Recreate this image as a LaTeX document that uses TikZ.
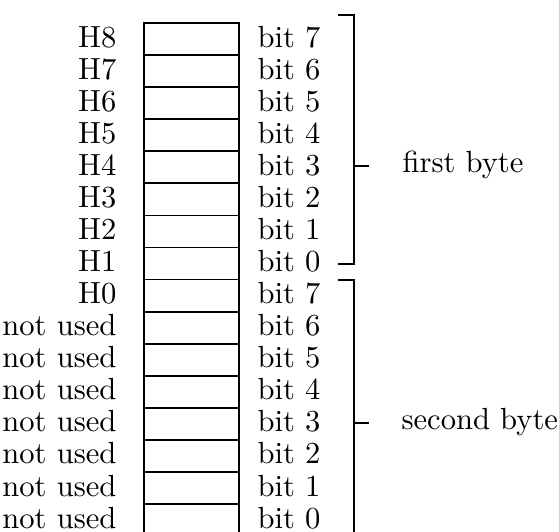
\documentclass[tikz,border=0pt]{standalone}
\begin{document}
\begin{tikzpicture}[x=0.35pt,y=-0.35pt,
  cell/.style={draw,line width=0.6pt,rectangle,inner sep=0pt,minimum width=33.25pt,minimum height=11.22pt},
  lab/.style={font=\fontsize{10.7}{12}\selectfont,inner sep=0pt},
  brk/.style={line width=0.4pt}]
\clip (0,0) rectangle (559,531);
\def\lefttext{{"H8","H7","H6","H5","H4","H3","H2","H1","H0","not used","not used","not used","not used","not used","not used","not used"}}
\foreach \i in {0,...,15}{
  \pgfmathsetmacro\yc{23+32.07*(\i+0.5)}
  \pgfmathtruncatemacro\b{7-mod(\i,8)}
  \pgfmathsetmacro\lt{\lefttext[\i]}
  \node[cell] (c\i) at (191.5,\yc) {};
  \node[lab,anchor=base east] (l\i) at (117,\yc+8) {\lt};
  \node[lab,anchor=base west] (r\i) at (257,\yc+8) {bit \b};
}
% first byte bracket
\coordinate (a1) at (338,15);
\coordinate (a2) at (354,15);
\coordinate (a3) at (354,264);
\coordinate (a4) at (338,264);
\coordinate (am) at (354,166);
\coordinate (at) at (369,166);
\draw[brk] (a1) -- (a2) -- (a3) -- (a4);
\draw[brk] (am) -- (at);
\node[lab,anchor=base west] (fb) at (402,172) {first byte};
% second byte bracket
\coordinate (b1) at (338,280);
\coordinate (b2) at (354,280);
\coordinate (b3) at (354,560);
\coordinate (bm) at (354,423);
\coordinate (bt) at (369,423);
\draw[brk] (b1) -- (b2) -- (b3);
\draw[brk] (bm) -- (bt);
\node[lab,anchor=base west] (sb) at (401,429) {second byte};
\end{tikzpicture}
\end{document}
